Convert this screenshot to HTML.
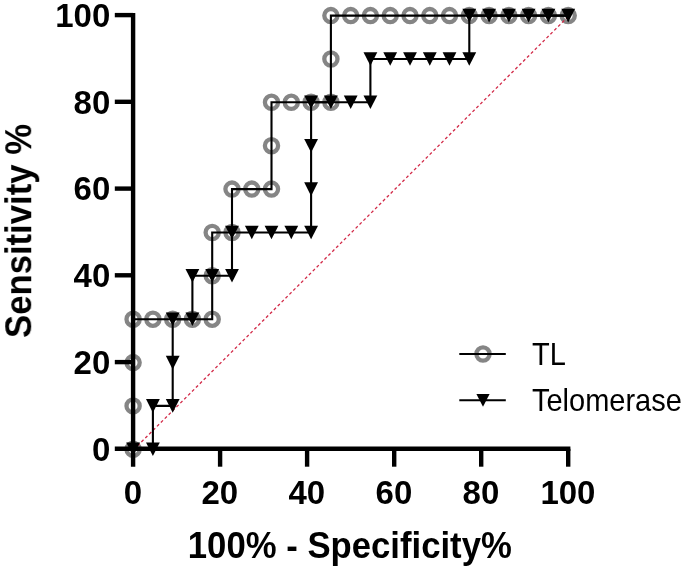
<!DOCTYPE html>
<html><head><meta charset="utf-8"><title>ROC curve</title>
<style>
html,body{margin:0;padding:0;background:#fff;}
body{width:685px;height:568px;overflow:hidden;}
svg{display:block;}
text{font-family:"Liberation Sans",sans-serif;fill:#000;}
.b{font-weight:bold;}
</style></head><body>
<svg width="685" height="568" viewBox="0 0 685 568">
<rect width="685" height="568" fill="#fff"/>
<g style="filter:blur(0.45px)">

<g id="tl">
<circle cx="133.1" cy="449.3" r="6.6" fill="none" stroke="#858585" stroke-width="4.3"/>
<circle cx="133.1" cy="405.9" r="6.6" fill="none" stroke="#858585" stroke-width="4.3"/>
<circle cx="133.1" cy="362.6" r="6.6" fill="none" stroke="#858585" stroke-width="4.3"/>
<circle cx="133.1" cy="319.2" r="6.6" fill="none" stroke="#858585" stroke-width="4.3"/>
<circle cx="152.9" cy="319.2" r="6.6" fill="none" stroke="#858585" stroke-width="4.3"/>
<circle cx="172.7" cy="319.2" r="6.6" fill="none" stroke="#858585" stroke-width="4.3"/>
<circle cx="192.4" cy="319.2" r="6.6" fill="none" stroke="#858585" stroke-width="4.3"/>
<circle cx="212.2" cy="319.2" r="6.6" fill="none" stroke="#858585" stroke-width="4.3"/>
<circle cx="212.2" cy="275.8" r="6.6" fill="none" stroke="#858585" stroke-width="4.3"/>
<circle cx="212.2" cy="232.5" r="6.6" fill="none" stroke="#858585" stroke-width="4.3"/>
<circle cx="232.0" cy="232.5" r="6.6" fill="none" stroke="#858585" stroke-width="4.3"/>
<circle cx="232.0" cy="189.1" r="6.6" fill="none" stroke="#858585" stroke-width="4.3"/>
<circle cx="251.8" cy="189.1" r="6.6" fill="none" stroke="#858585" stroke-width="4.3"/>
<circle cx="271.5" cy="189.1" r="6.6" fill="none" stroke="#858585" stroke-width="4.3"/>
<circle cx="271.5" cy="145.7" r="6.6" fill="none" stroke="#858585" stroke-width="4.3"/>
<circle cx="271.5" cy="102.3" r="6.6" fill="none" stroke="#858585" stroke-width="4.3"/>
<circle cx="291.3" cy="102.3" r="6.6" fill="none" stroke="#858585" stroke-width="4.3"/>
<circle cx="311.1" cy="102.3" r="6.6" fill="none" stroke="#858585" stroke-width="4.3"/>
<circle cx="330.9" cy="102.3" r="6.6" fill="none" stroke="#858585" stroke-width="4.3"/>
<circle cx="330.9" cy="59.0" r="6.6" fill="none" stroke="#858585" stroke-width="4.3"/>
<circle cx="330.9" cy="15.6" r="6.6" fill="none" stroke="#858585" stroke-width="4.3"/>
<circle cx="350.7" cy="15.6" r="6.6" fill="none" stroke="#858585" stroke-width="4.3"/>
<circle cx="370.4" cy="15.6" r="6.6" fill="none" stroke="#858585" stroke-width="4.3"/>
<circle cx="390.2" cy="15.6" r="6.6" fill="none" stroke="#858585" stroke-width="4.3"/>
<circle cx="410.0" cy="15.6" r="6.6" fill="none" stroke="#858585" stroke-width="4.3"/>
<circle cx="429.8" cy="15.6" r="6.6" fill="none" stroke="#858585" stroke-width="4.3"/>
<circle cx="449.5" cy="15.6" r="6.6" fill="none" stroke="#858585" stroke-width="4.3"/>
<circle cx="469.3" cy="15.6" r="6.6" fill="none" stroke="#858585" stroke-width="4.3"/>
<circle cx="489.1" cy="15.6" r="6.6" fill="none" stroke="#858585" stroke-width="4.3"/>
<circle cx="508.9" cy="15.6" r="6.6" fill="none" stroke="#858585" stroke-width="4.3"/>
<circle cx="528.6" cy="15.6" r="6.6" fill="none" stroke="#858585" stroke-width="4.3"/>
<circle cx="548.4" cy="15.6" r="6.6" fill="none" stroke="#858585" stroke-width="4.3"/>
<circle cx="568.2" cy="15.6" r="6.6" fill="none" stroke="#858585" stroke-width="4.3"/>
<path d="M133.1 449.3 L133.1 405.9 L133.1 362.6 L133.1 319.2 L152.9 319.2 L172.7 319.2 L192.4 319.2 L212.2 319.2 L212.2 275.8 L212.2 232.5 L232.0 232.5 L232.0 189.1 L251.8 189.1 L271.5 189.1 L271.5 145.7 L271.5 102.3 L291.3 102.3 L311.1 102.3 L330.9 102.3 L330.9 59.0 L330.9 15.6 L350.7 15.6 L370.4 15.6 L390.2 15.6 L410.0 15.6 L429.8 15.6 L449.5 15.6 L469.3 15.6 L489.1 15.6 L508.9 15.6 L528.6 15.6 L548.4 15.6 L568.2 15.6" fill="none" stroke="#000" stroke-width="2.1"/>
</g>
<line x1="133.6" y1="449.7" x2="568.7" y2="16.0" stroke="#d22a48" stroke-width="1.3" stroke-dasharray="3 2.5"/>
<g id="telomerase">
<path d="M133.1 449.3 L152.9 449.3 L152.9 405.9 L172.7 405.9 L172.7 362.6 L172.7 319.2 L192.4 319.2 L192.4 275.8 L212.2 275.8 L232.0 275.8 L232.0 232.5 L251.8 232.5 L271.5 232.5 L291.3 232.5 L311.1 232.5 L311.1 189.1 L311.1 145.7 L311.1 102.3 L330.9 102.3 L350.7 102.3 L370.4 102.3 L370.4 59.0 L390.2 59.0 L410.0 59.0 L429.8 59.0 L449.5 59.0 L469.3 59.0 L469.3 15.6 L489.1 15.6 L508.9 15.6 L528.6 15.6 L548.4 15.6 L568.2 15.6" fill="none" stroke="#000" stroke-width="2.1"/>
<path d="M126.2 442.5 L140.0 442.5 L133.1 456.1 Z" fill="#000"/>
<path d="M146.0 442.5 L159.8 442.5 L152.9 456.1 Z" fill="#000"/>
<path d="M146.0 399.1 L159.8 399.1 L152.9 412.7 Z" fill="#000"/>
<path d="M165.8 399.1 L179.6 399.1 L172.7 412.7 Z" fill="#000"/>
<path d="M165.8 355.8 L179.6 355.8 L172.7 369.4 Z" fill="#000"/>
<path d="M165.8 312.4 L179.6 312.4 L172.7 326.0 Z" fill="#000"/>
<path d="M185.5 312.4 L199.3 312.4 L192.4 326.0 Z" fill="#000"/>
<path d="M185.5 269.0 L199.3 269.0 L192.4 282.6 Z" fill="#000"/>
<path d="M205.3 269.0 L219.1 269.0 L212.2 282.6 Z" fill="#000"/>
<path d="M225.1 269.0 L238.9 269.0 L232.0 282.6 Z" fill="#000"/>
<path d="M225.1 225.7 L238.9 225.7 L232.0 239.3 Z" fill="#000"/>
<path d="M244.9 225.7 L258.7 225.7 L251.8 239.3 Z" fill="#000"/>
<path d="M264.6 225.7 L278.4 225.7 L271.5 239.3 Z" fill="#000"/>
<path d="M284.4 225.7 L298.2 225.7 L291.3 239.3 Z" fill="#000"/>
<path d="M304.2 225.7 L318.0 225.7 L311.1 239.3 Z" fill="#000"/>
<path d="M304.2 182.3 L318.0 182.3 L311.1 195.9 Z" fill="#000"/>
<path d="M304.2 138.9 L318.0 138.9 L311.1 152.5 Z" fill="#000"/>
<path d="M304.2 95.5 L318.0 95.5 L311.1 109.1 Z" fill="#000"/>
<path d="M324.0 95.5 L337.8 95.5 L330.9 109.1 Z" fill="#000"/>
<path d="M343.8 95.5 L357.6 95.5 L350.7 109.1 Z" fill="#000"/>
<path d="M363.5 95.5 L377.3 95.5 L370.4 109.1 Z" fill="#000"/>
<path d="M363.5 52.2 L377.3 52.2 L370.4 65.8 Z" fill="#000"/>
<path d="M383.3 52.2 L397.1 52.2 L390.2 65.8 Z" fill="#000"/>
<path d="M403.1 52.2 L416.9 52.2 L410.0 65.8 Z" fill="#000"/>
<path d="M422.9 52.2 L436.7 52.2 L429.8 65.8 Z" fill="#000"/>
<path d="M442.6 52.2 L456.4 52.2 L449.5 65.8 Z" fill="#000"/>
<path d="M462.4 52.2 L476.2 52.2 L469.3 65.8 Z" fill="#000"/>
<path d="M462.4 8.8 L476.2 8.8 L469.3 22.4 Z" fill="#000"/>
<path d="M482.2 8.8 L496.0 8.8 L489.1 22.4 Z" fill="#000"/>
<path d="M502.0 8.8 L515.8 8.8 L508.9 22.4 Z" fill="#000"/>
<path d="M521.7 8.8 L535.5 8.8 L528.6 22.4 Z" fill="#000"/>
<path d="M541.5 8.8 L555.3 8.8 L548.4 22.4 Z" fill="#000"/>
<path d="M561.3 8.8 L575.1 8.8 L568.2 22.4 Z" fill="#000"/>
</g>
<g id="axes" stroke="#000" fill="none" stroke-width="4.4">
<path d="M133.1 12.9 V466.7"/>
<path d="M114.8 448.8 H570.4"/>
<path d="M220.1 448.8 V466.7"/>
<path d="M133.1 362.1 H114.8"/>
<path d="M307.1 448.8 V466.7"/>
<path d="M133.1 275.3 H114.8"/>
<path d="M394.2 448.8 V466.7"/>
<path d="M133.1 188.6 H114.8"/>
<path d="M481.2 448.8 V466.7"/>
<path d="M133.1 101.8 H114.8"/>
<path d="M568.2 448.8 V466.7"/>
<path d="M133.1 15.1 H114.8"/>
</g>
<g id="ticklabels" class="b" font-size="33">
<text transform="translate(132.8 504) scale(1 1.03)" text-anchor="middle">0</text>
<text transform="translate(219.8 504) scale(1 1.03)" text-anchor="middle">20</text>
<text transform="translate(306.8 504) scale(1 1.03)" text-anchor="middle">40</text>
<text transform="translate(393.9 504) scale(1 1.03)" text-anchor="middle">60</text>
<text transform="translate(480.9 504) scale(1 1.03)" text-anchor="middle">80</text>
<text transform="translate(567.9 504) scale(1 1.03)" text-anchor="middle">100</text>
<text transform="translate(110.3 460.6) scale(1 1.03)" text-anchor="end">0</text>
<text transform="translate(110.3 373.9) scale(1 1.03)" text-anchor="end">20</text>
<text transform="translate(110.3 287.1) scale(1 1.03)" text-anchor="end">40</text>
<text transform="translate(110.3 200.4) scale(1 1.03)" text-anchor="end">60</text>
<text transform="translate(110.3 113.6) scale(1 1.03)" text-anchor="end">80</text>
<text transform="translate(110.3 26.9) scale(1 1.03)" text-anchor="end">100</text>
</g>
<text class="b" transform="translate(349.8 557.6) scale(1 1.06)" font-size="34.7" text-anchor="middle">100% - Specificity%</text>
<text class="b" transform="translate(31.5 231) rotate(-90) scale(1 1.04)" font-size="34.7" text-anchor="middle">Sensitivity %</text>
<g id="legend">
<circle cx="483" cy="354" r="6.6" fill="none" stroke="#858585" stroke-width="4.3"/>
<path d="M459.3 354 H505.8" stroke="#000" stroke-width="2.1"/>
<path d="M459.3 400.3 H505.8" stroke="#000" stroke-width="2.1"/>
<path d="M476.4 393.9 L489.6 393.9 L483.0 406.7 Z" fill="#000"/>
<text transform="translate(532 364.6) scale(1 1.08)" font-size="29">TL</text>
<text transform="translate(532 410.8) scale(1 1.08)" font-size="29">Telomerase</text>
</g>
</g>
</svg></body></html>
